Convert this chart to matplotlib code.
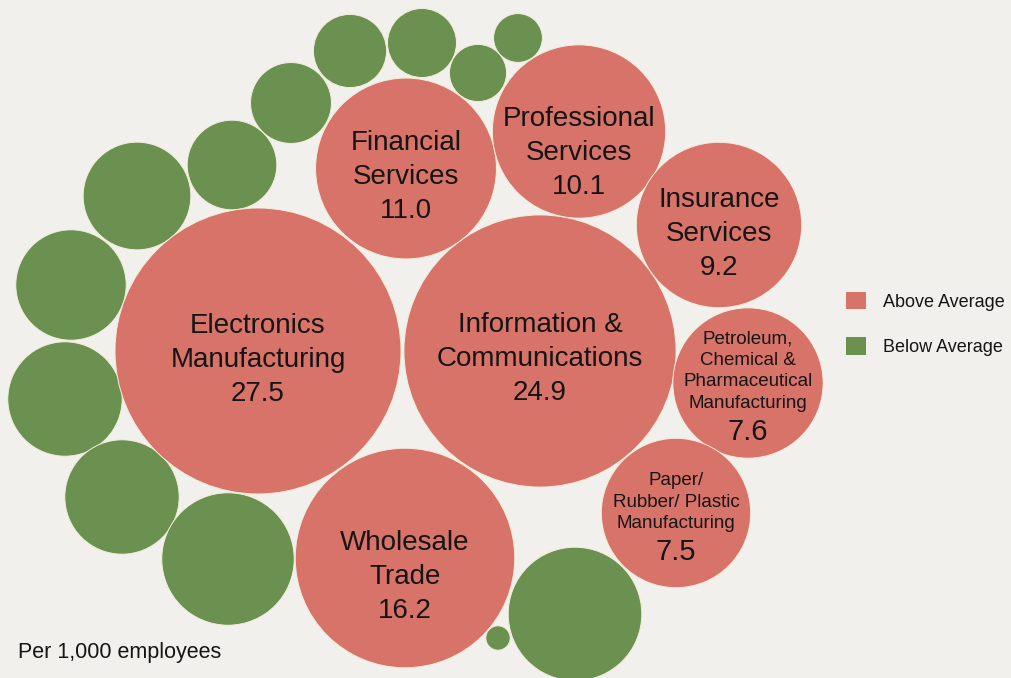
import numpy as np
import matplotlib
matplotlib.use("Agg")
import matplotlib.pyplot as plt
from matplotlib.patches import Circle, Patch

plt.rcParams["font.family"] = ["Liberation Sans", "DejaVu Sans"]

# Sectors above average (rate per 1,000 employees)
above_names = [
    "Electronics\nManufacturing",
    "Information &\nCommunications",
    "Wholesale\nTrade",
    "Financial\nServices",
    "Professional\nServices",
    "Insurance\nServices",
    "Petroleum,\nChemical &\nPharmaceutical\nManufacturing",
    "Paper/\nRubber/ Plastic\nManufacturing",
]
above_rates = [27.5, 24.9, 16.2, 11.0, 10.1, 9.2, 7.6, 7.5]

# Sectors below average (unlabelled bubbles)
below_rates = [4.1, 3.9, 2.7, 2.2, 1.8, 1.6, 1.1, 0.8, 4.4, 4.4, 5.9, 6.0, 0.2]

legend_labels = ["Above Average", "Below Average"]
footnote = "Per 1,000 employees"

# ---- layout (pixel canvas, y downwards) ----
W, H = 1011, 678
RADIUS_SCALE = 143 / np.sqrt(27.5)   # bubble area proportional to rate

above_xy = [(258, 351), (540, 351), (405, 558), (406, 168.5),
            (579, 131.5), (719, 225), (748, 383), (676, 513)]
below_xy = [(71, 285), (137, 196), (232, 165), (291, 103), (350, 51),
            (422, 43), (478, 73), (518, 38), (65, 399), (122, 497),
            (228, 559), (575, 614), (498, 638)]

# label styling: name size, line step, first baseline offset, value size, value offset
label_style = [
    (20, 34, -18, 20, None),
    (20, 34, -19, 20, None),
    (20, 34, -8, 20, None),
    (20, 34, -18, 20, None),
    (20, 34, -5.5, 20, None),
    (20, 34, -18, 20, None),
    (13.5, 21.7, -40, 21, 57),
    (13.5, 21.7, -28, 21, 47),
]

RED = "#d8736a"
GREEN = "#6a9150"
BG = "#f2f0ed"
TXT = "#151515"
EDGE = "#f4eedc"

fig = plt.figure(figsize=(W / 100, H / 100), dpi=100, facecolor=BG)
ax = fig.add_axes([0, 0, 1, 1])
ax.set_facecolor(BG)
ax.set_xlim(0, W)
ax.set_ylim(H, 0)
ax.set_aspect("equal")
ax.axis("off")

for (x, y), v in zip(below_xy, below_rates):
    ax.add_patch(Circle((x, y), RADIUS_SCALE * np.sqrt(v), facecolor=GREEN,
                        edgecolor=EDGE, linewidth=0.7))

for (x, y), v, name, (ns, step, off, vs, voff) in zip(
        above_xy, above_rates, above_names, label_style):
    ax.add_patch(Circle((x, y), RADIUS_SCALE * np.sqrt(v), facecolor=RED,
                        edgecolor=EDGE, linewidth=0.7))
    lines = name.split("\n")
    for i, line in enumerate(lines):
        ax.text(x, y + off + i * step, line, fontsize=ns, color=TXT,
                ha="center", va="baseline")
    vy = y + off + len(lines) * step if voff is None else y + voff
    ax.text(x, vy, f"{v:.1f}", fontsize=vs, color=TXT,
            ha="center", va="baseline")

handles = [Patch(facecolor=RED, edgecolor="none"),
           Patch(facecolor=GREEN, edgecolor="none")]
fig.legend(handles, legend_labels, loc="upper left",
           bbox_to_anchor=(846 / W, 1 - 292 / H), frameon=False,
           fontsize=13, handlelength=1.1, handleheight=1.1,
           handletextpad=0.95, labelspacing=1.47, borderpad=0,
           borderaxespad=0, labelcolor=TXT)

ax.text(18, 658, footnote, fontsize=15.5, color=TXT, ha="left", va="baseline")

fig.savefig("out.png", dpi=100, facecolor=BG)
